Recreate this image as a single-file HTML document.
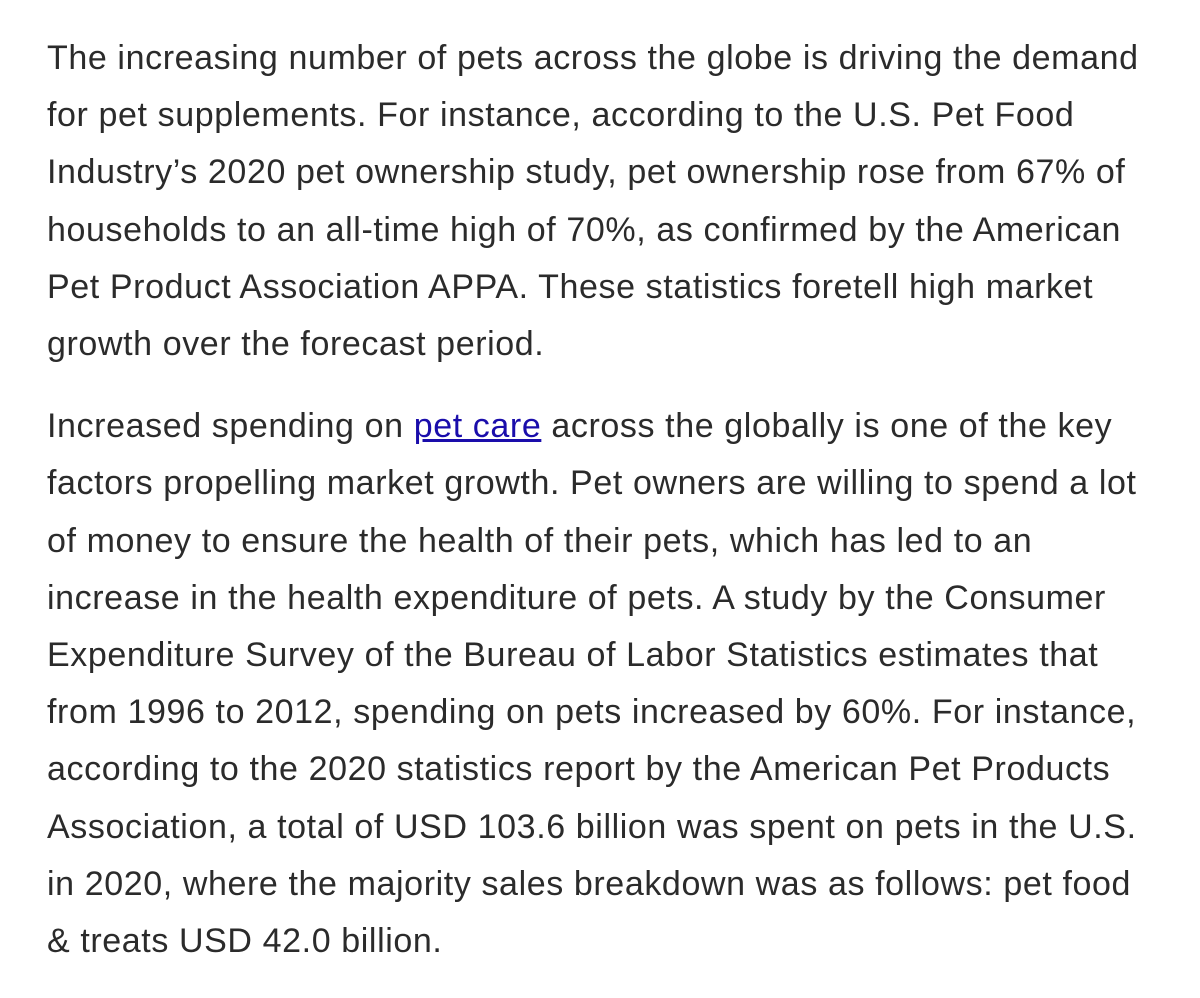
<!DOCTYPE html>
<html>
<head>
<meta charset="utf-8">
<style>
  html, body { margin: 0; padding: 0; background: #ffffff; }
  body { width: 1200px; height: 998px; overflow: hidden; }
  .content {
    position: absolute; left: 47px; top: 30px;
    font-family: "Liberation Sans", sans-serif;
    font-size: 34px; letter-spacing: 0.6px; line-height: 57.2px; color: #2b2b2b;
  }
  p { margin: 0; white-space: nowrap; }
  p + p { margin-top: 25px; }
  a { color: #1a0dab; text-decoration: underline; }
</style>
</head>
<body>
<div class="content">
  <p>The increasing number of pets across the globe is driving the demand<br>for pet supplements. For instance, according to the U.S. Pet Food<br>Industry’s 2020 pet ownership study, pet ownership rose from 67% of<br>households to an all-time high of 70%, as confirmed by the American<br>Pet Product Association APPA. These statistics foretell high market<br>growth over the forecast period.</p>
  <p>Increased spending on <a href="#">pet care</a> across the globally is one of the key<br>factors propelling market growth. Pet owners are willing to spend a lot<br>of money to ensure the health of their pets, which has led to an<br>increase in the health expenditure of pets. A study by the Consumer<br>Expenditure Survey of the Bureau of Labor Statistics estimates that<br>from 1996 to 2012, spending on pets increased by 60%. For instance,<br>according to the 2020 statistics report by the American Pet Products<br>Association, a total of USD 103.6 billion was spent on pets in the U.S.<br>in 2020, where the majority sales breakdown was as follows: pet food<br>&amp; treats USD 42.0 billion.</p>
</div>
</body>
</html>
